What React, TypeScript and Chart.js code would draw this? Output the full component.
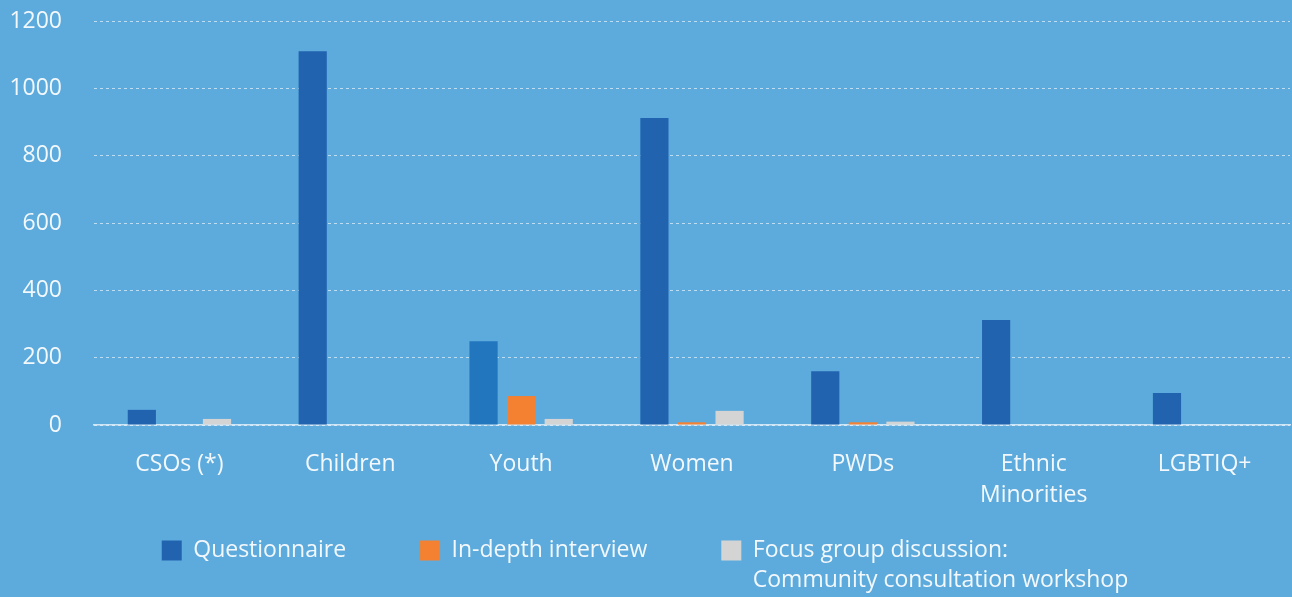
import React, { useEffect, useRef } from 'react';
import { Chart, registerables } from 'chart.js';

Chart.register(...registerables);

// ---- data ----
const categories: (string | string[])[] = [
  'CSOs (*)',
  'Children',
  'Youth',
  'Women',
  'PWDs',
  ['Ethnic', 'Minorities'],
  'LGBTIQ+',
];
const questionnaire = [45, 1110, 249, 912, 160, 312, 95];
const inDepthInterview = [0, 0, 86, 8, 8, 0, 0];
const focusGroup = [18, 0, 18, 42, 10, 0, 0];
const seriesLabels = ['Questionnaire', 'In-depth interview', 'Focus group discussion: Community consultation workshop'];
const legendLines: string[][] = [
  ['Questionnaire'],
  ['In-depth interview'],
  ['Focus group discussion:', 'Community consultation workshop'],
];
const yMin = 0;
const yMax = 1200;
const yStep = 200;

// ---- styles ----
const BG = '#5DABDD';
const TEXT = '#F3F8FC';
const Q_COLOR = '#2263B0';
const Q_YOUTH = '#2176BE';
const ORANGE = '#F48132';
const GRAY = '#D4D4D4';
const FONT = '"Open Sans", sans-serif';
const X_AXIS_H = 82;
const LEGEND_RAISE = 42;

// multi-line legend text: measured by its longest line
function legendText(lines: string[]): any {
  const arr: any = lines.slice();
  const longest = lines.reduce((a, b) => (a.length >= b.length ? a : b));
  arr.toString = () => longest;
  return arr;
}

const legendPatch = {
  id: 'legendPatch',
  beforeUpdate(chart: any) {
    const lg: any = chart.legend;
    if (lg && !lg.__patched) {
      const fit = lg.fit.bind(lg);
      lg.fit = function () {
        fit();
        this.height = 90;
      };
      lg.__patched = true;
    }
  },
  afterLayout(chart: any) {
    const lg: any = chart.legend;
    if (lg) {
      lg.top -= LEGEND_RAISE;
      lg.height += LEGEND_RAISE;
    }
  },
};

export default function App() {
  const ref = useRef<HTMLCanvasElement | null>(null);

  useEffect(() => {
    if (!ref.current) return;
    const qColors = categories.map((c) => (c === 'Youth' ? Q_YOUTH : Q_COLOR));
    const fills = [Q_COLOR, ORANGE, GRAY];
    const chart = new Chart(ref.current, {
      type: 'bar',
      data: {
        labels: categories,
        datasets: [
          { label: seriesLabels[0], data: questionnaire, backgroundColor: qColors, borderWidth: 0 },
          { label: seriesLabels[1], data: inDepthInterview, backgroundColor: ORANGE, borderWidth: 0 },
          { label: seriesLabels[2], data: focusGroup, backgroundColor: GRAY, borderWidth: 0 },
        ],
      },
      plugins: [legendPatch],
      options: {
        animation: false,
        responsive: false,
        maintainAspectRatio: false,
        datasets: {
          bar: { barPercentage: 0.75, categoryPercentage: 0.66 },
        },
        layout: { padding: { top: 21, right: 2, left: 0, bottom: 0 } },
        plugins: {
          tooltip: { enabled: false },
          legend: {
            position: 'bottom',
            align: 'center',
            labels: {
              color: TEXT,
              font: { family: FONT, size: 23, lineHeight: 1.3 },
              boxWidth: 20,
              boxHeight: 20,
              padding: 74,
              generateLabels: () =>
                legendLines.map((t, i) => ({
                  text: legendText(t),
                  fillStyle: fills[i],
                  strokeStyle: 'rgba(0,0,0,0)',
                  lineWidth: 0,
                  hidden: false,
                  datasetIndex: i,
                  fontColor: TEXT,
                })),
            },
          },
        },
        scales: {
          x: {
            grid: { display: false },
            border: { display: true, color: 'rgba(255,255,255,0.7)', width: 1.5 },
            ticks: {
              color: TEXT,
              font: { family: FONT, size: 23, lineHeight: 1.35 },
              padding: 16,
              maxRotation: 0,
              autoSkip: false,
            },
            afterFit: (scale: any) => {
              scale.height = X_AXIS_H;
              scale.paddingLeft = 0;
              scale.paddingRight = 0;
            },
          },
          y: {
            min: yMin,
            max: yMax,
            grid: {
              color: 'rgba(255,255,255,0.6)',
              lineWidth: 1,
              drawTicks: false,
            },
            border: { display: false, dash: [3, 3] },
            ticks: {
              stepSize: yStep,
              color: TEXT,
              font: { family: FONT, size: 23 },
              padding: 32,
              callback: (v: any) => String(v),
            },
            afterFit: (scale: any) => {
              scale.width = 94;
              scale.paddingTop = 0;
              scale.paddingBottom = 0;
            },
          },
        },
      },
    });
    return () => chart.destroy();
  }, []);

  return (
    <div style={{ position: 'fixed', left: 0, top: 0, width: 1292, height: 597, background: BG }}>
      <canvas ref={ref} width={1292} height={597} style={{ display: 'block', width: 1292, height: 597 }} />
    </div>
  );
}
